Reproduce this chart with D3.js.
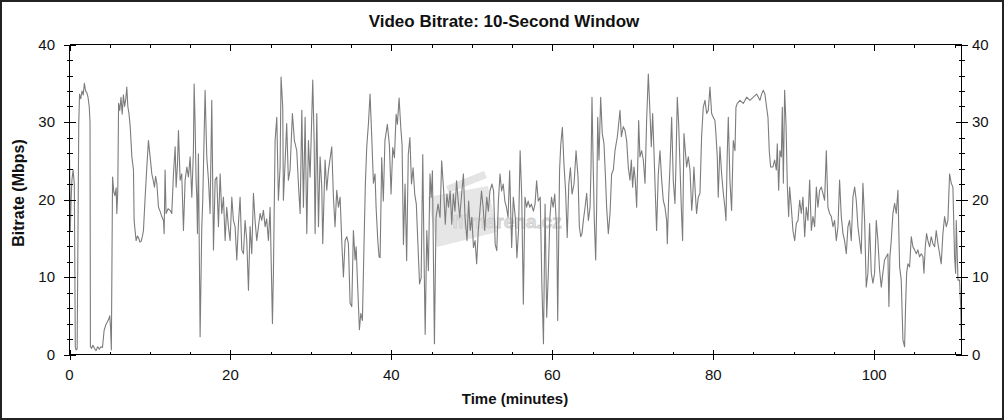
<!DOCTYPE html>
<html>
<head>
<meta charset="utf-8">
<script src="https://cdn.jsdelivr.net/npm/d3@7/dist/d3.min.js"></script>
<style>
  html, body { margin: 0; padding: 0; background: #fff; }
  svg { display: block; }
  text { font-family: "Liberation Sans", Arial, sans-serif; fill: #111; }
</style>
</head>
<body>
<svg id="chart" width="1004" height="420"></svg>
<script>
// ---- data ----
const title = "Video Bitrate: 10-Second Window";
const xLabel = "Time (minutes)";
const yLabel = "Bitrate (Mbps)";
const xTicks = [0, 20, 40, 60, 80, 100];
const yTicks = [0, 10, 20, 30, 40];

const minutes = [
 0.0,0.1,0.2,0.3,0.45,0.6,0.72,0.8,0.95,1.05,1.15,1.25,1.4,1.55,1.7,1.85,2.0,2.15,2.3,2.45,2.55,2.6,2.75,2.9,3.1,3.3,3.5,3.7,3.9,4.1,4.3,4.5,4.7,4.9,5.0,5.1,5.2,5.35,5.5,5.65,5.8,5.88,6.0,6.1,6.25,6.4,6.55,6.7,6.85,7.0,7.12,7.25,7.4,7.55,7.75,7.95,8.03,8.15,8.28,8.45,8.6,8.75,8.9,9.05,9.19,
 9.4,9.6,9.81,10.02,10.23,10.4,10.56,10.7,10.85,11.06,11.25,11.47,11.68,11.76,11.88,12.0,12.25,12.51,12.71,12.92,13.13,13.25,13.42,13.54,13.75,13.95,14.16,14.37,14.58,14.78,14.99,15.2,15.4,15.49,15.61,15.73,15.82,15.9,16.02,16.23,16.44,16.56,16.85,17.06,17.27,17.47,17.68,17.89,18.1,18.3,18.51,18.72,18.92,19.13,19.34,19.54,19.75,19.96,
 20.17,20.37,20.58,20.79,21.0,21.2,21.41,21.62,21.82,22.03,22.24,22.44,22.65,22.86,23.06,23.27,23.48,23.69,23.89,24.1,24.31,24.5,24.72,24.93,25.22,25.34,25.55,25.76,25.96,26.17,26.29,26.5,26.58,26.8,26.99,27.2,27.41,27.7,27.95,28.24,28.5,28.66,
 28.87,29.07,29.28,29.49,29.69,29.9,30.23,30.4,30.52,30.73,30.94,31.14,31.35,31.47,31.76,31.97,32.18,32.59,32.8,33.0,33.21,33.42,33.63,33.83,34.04,34.25,34.46,34.66,34.87,35.08,35.28,35.49,35.62,35.78,36.03,36.2,36.4,36.61,36.77,36.94,37.15,37.35,37.56,37.77,37.97,38.1,38.31,38.47,
 38.6,38.8,39.0,39.2,39.5,39.75,39.96,40.17,40.38,40.59,40.75,40.96,41.17,41.33,41.5,41.7,41.9,42.1,42.3,42.5,42.7,42.9,43.1,43.3,43.5,43.7,43.9,44.05,44.2,44.4,
 44.6,44.8,44.95,45.1,45.35,45.55,45.8,46.05,46.25,46.5,46.7,46.9,47.1,47.3,47.5,47.7,47.9,48.1,48.3,48.5,48.7,48.95,49.15,49.4,49.6,49.8,50.0,50.2,50.4,50.6,
 50.8,51.0,51.2,51.4,51.6,51.85,52.05,52.25,52.5,52.7,52.9,53.1,53.3,53.5,53.7,53.9,54.1,54.3,54.5,54.7,54.95,55.15,55.4,55.6,55.8,56.0,56.2,56.4,56.6,56.8,
 57.0,57.2,57.4,57.65,57.85,58.05,58.25,58.5,58.7,58.9,59.1,59.3,59.5,59.7,59.9,60.1,60.3,60.55,60.67,60.9,61.05,61.25,61.45,61.65,61.85,62.05,62.25,62.45,62.7,62.95,63.2,
 63.36,63.53,63.69,63.86,64.07,64.27,64.48,64.69,64.81,64.93,65.1,65.22,65.39,65.51,65.64,65.8,66.01,66.21,66.42,66.59,66.75,66.96,67.17,67.37,67.58,67.79,68.08,68.25,68.41,68.58,68.82,69.03,69.24,69.44,69.65,69.82,69.98,
 70.15,70.31,70.48,70.65,70.73,70.89,71.1,71.31,71.52,71.72,71.93,72.14,72.3,72.47,72.63,72.8,72.96,73.17,73.38,73.59,73.79,74.0,74.21,74.29,74.46,74.62,74.83,75.03,75.24,75.37,75.53,75.7,75.86,76.03,76.19,76.36,76.53,76.69,76.9,77.11,77.32,77.44,77.6,77.77,77.93,78.14,78.35,78.55,78.76,78.97,79.18,79.38,79.59,79.8,
 80.0,80.21,80.33,80.5,80.62,80.83,81.04,81.25,81.45,81.58,81.74,81.87,82.07,82.28,82.49,82.7,82.82,82.99,83.32,83.73,84.15,84.56,84.98,85.39,85.8,86.01,86.22,86.42,86.63,86.8,86.96,87.13,87.42,87.63,87.84,87.96,88.13,88.29,88.46,88.58,88.71,88.87,89.04,89.21,89.37,89.49,89.7,89.9,
 90.12,90.32,90.53,90.74,90.94,91.15,91.36,91.56,91.77,91.98,92.19,92.39,92.6,92.81,93.01,93.22,93.43,93.63,93.84,94.05,94.25,94.46,94.67,94.88,95.08,95.29,95.5,95.7,95.91,96.12,96.32,96.53,96.74,96.94,97.15,97.36,97.57,97.77,97.98,98.19,98.39,98.6,98.81,99.01,99.22,99.43,99.64,99.84,
 100.05,100.26,100.46,100.67,100.88,101.08,101.29,101.5,101.7,101.83,101.95,102.12,102.33,102.54,102.74,102.95,103.16,103.36,103.57,103.78,103.9,104.03,104.19,104.4,104.61,104.81,105.02,105.23,105.43,105.64,105.85,106.06,106.18,106.35,106.51,106.68,106.89,107.09,107.3,107.51,107.71,107.92,108.13,108.33,108.54,108.75,108.96,109.16,109.37,109.58,109.78,109.99,110.12,110.2,110.41,110.61,110.75,110.85
];

const bitrate = [
 26,16,20,22.5,23.8,22,1.0,0.6,0.7,15,29.8,33.6,33,34,33.5,35,34,33.8,33.2,32,30,1.0,0.8,1.2,0.8,0.5,1.0,0.7,1.0,0.9,3.1,3.8,4.2,4.6,5.0,3.5,0.6,22.9,21,20.5,21.5,18.2,21,32.4,31.5,33.2,31,33.5,32,33,34.5,32,31,29.3,25.5,23.8,17.3,16,14.7,15.3,15.0,14.5,14.6,15.2,16,
 20.3,24,27.6,25.5,23.3,22.5,21.6,23,22.1,19.0,18.5,17.8,17.3,15.6,23.8,18.2,18.8,18.6,18.2,23.3,26.8,21.6,24.6,28.9,22.5,23.3,16.0,22.5,24.2,22.9,25.5,20.3,26.3,34.9,29.8,22.5,20.3,15.6,25.9,2.3,16.5,19.9,34.1,25.5,22.5,18.2,32.8,13.5,22.5,22.9,16.5,23.3,18.2,20.3,14.7,19.0,16.5,14.7,
 20.3,17.3,16.5,12.2,17,20.3,13.5,13.0,17.3,14.7,8.3,16.5,13.0,20.8,17.3,14.7,16.5,18.2,17.3,18.6,16.5,17.5,14.7,19.0,4.0,10.5,27.6,30.6,19.9,24.2,35.8,31.9,19.9,25,29.8,22.5,23.8,31.1,27.6,26.3,21,18.2,
 31.5,19.0,30.6,15.6,27.6,22.9,35.4,27.6,15.6,31.1,16.5,25.5,21.6,14.3,25.1,21.2,23.8,26.8,20.3,16.5,21.2,19.0,20.3,14.7,10.0,14.7,15.2,14.3,6.6,6.2,16.0,12.2,13.9,9.6,3.2,5.3,4.4,14.7,22.1,26.8,29.8,33.6,28.1,22.1,23.3,19.0,14.7,12.6,
 12.5,25.4,19.8,27.6,29.7,27.1,20.7,26.7,25.4,31.0,29.7,33.1,29.3,27.1,14.2,22.0,12.1,25.8,28.0,22.0,24.1,20.7,19.4,14.2,9.1,9.9,25.8,13.4,2.6,16.0,
 10.8,23.3,20.3,23.7,1.4,17.7,19.4,17.7,25.0,21.1,16.8,20.7,19.0,21.1,16.8,20.7,18.5,22.4,19.8,17.7,20.3,23.3,17.7,14.7,19.8,16.0,17.7,13.8,14.7,11.7,
 16.0,18.5,21.1,19.0,16.0,20.3,18.5,21.1,22.0,21.1,14.2,13.4,19.8,23.3,21.1,22.0,19.8,19.0,17.7,23.7,13.8,20.3,17.7,12.5,16.0,26.3,20.3,6.5,20.3,19.0,
 19.8,19.0,19.4,18.5,19.4,22.4,19.8,20.3,9.1,1.4,19.4,4.8,10.4,17.7,20.3,19.0,20.7,16.0,4.4,23.7,27.1,29.3,24.5,21.1,15.1,22.0,24.1,20.7,22.0,26.3,22.8,
 16.5,15.2,15.6,17.3,19.0,20.8,17.3,19.0,24.2,33.2,23.3,17.3,12.2,19.0,30.6,25.1,33.2,28.5,27.2,23.3,19.0,15.6,18.2,23.3,23.8,26.3,28.1,29.8,31.5,28.1,29.4,28.9,27.6,24.2,22.5,25.1,21.6,
 24.2,22.5,19.0,25.9,30.2,25.5,26.3,25.1,22.1,30.2,36.2,31.1,26.8,31.1,26.3,20.8,16.0,23.3,26.3,22.5,19.9,19.0,17.3,14.3,20.3,24.2,30.6,22.5,19.5,24.6,33.2,29.8,24.6,19.0,14.7,28.5,26.3,24.2,25.5,23.8,18.6,20.3,24.2,20.8,18.2,20.3,20.8,28.1,31.9,32.8,31.1,31.5,34.5,31.1,
 30.6,30.2,28.5,25.5,20.3,26.8,23.3,20.8,19.0,17.3,25.9,30.6,22.5,18.6,27.6,26.3,31.9,32.4,32.8,32.4,33.2,32.8,33.2,33.6,32.8,33.6,34.1,33.6,31.9,30.6,26.3,24.2,24.2,25.1,23.8,27.2,21.2,26.3,25.5,31.9,22.1,34.1,29.8,21.6,17.8,21.6,19.0,16.0,
 14.7,16.9,17.3,19.9,18.2,20.3,15.2,19.0,17.3,22.5,16.0,17.8,16.5,21.6,19.0,21.2,21.6,20.8,19.9,26.3,19.0,18.2,17.8,16.5,17.3,14.7,16.5,22.5,17.8,15.6,14.7,13.0,16.5,17.3,14.7,20.3,21.6,19.9,16.5,14.7,13.0,22.1,17.3,8.7,10.5,16.9,10.5,9.2,
 10.5,17.3,14.7,10.9,8.7,10.5,12.2,12.6,13.0,6.2,12.6,14.7,18.2,19.5,18.2,21.2,11.3,9.6,1.9,1.0,6.2,10.5,11.7,11.3,15.2,13.9,13.5,13.0,13.5,12.6,13.0,12.6,10.5,13.9,15.6,14.7,13.9,15.2,14.3,13.9,16.0,14.3,13.0,11.7,15.6,17.8,16.5,17.3,23.3,22.1,21.6,12.6,10.5,17.3,9.6,9.6,6.2,1.5
];

// ---- layout ----
const W = 1004, H = 420;
const svg = d3.select("#chart");
const x = d3.scaleLinear().domain([0, 110.85]).range([69.5, 961.5]);
const y = d3.scaleLinear().domain([0, 40]).range([354.5, 44.5]);

svg.append("rect").attr("x", 0).attr("y", 0).attr("width", W).attr("height", H).attr("fill", "#fff");
svg.append("rect").attr("x", 1).attr("y", 1).attr("width", W - 2).attr("height", H - 2)
  .attr("fill", "none").attr("stroke", "#222").attr("stroke-width", 2);

// watermark (faint logo behind the line)
const wm = svg.append("g");
wm.append("path")
  .attr("d", "M446,186 L484,171 L487,178 L449,193 Z")
  .attr("fill", "#e4e4e4");
wm.append("path")
  .attr("d", "M428,197 L488,186 L497,232 L437,247 Z")
  .attr("fill", "#e6e6e6");
wm.append("text").attr("x", 452).attr("y", 228)
  .attr("font-size", 19).attr("font-weight", "bold")
  .style("fill", "#e0e0e0").style("stroke", "#cfcfcf").style("stroke-width", 0.8)
  .text("filmarena.cz");

// data line
const n = Math.min(minutes.length, bitrate.length);
const data = d3.range(n).map(i => ({ t: minutes[i], v: bitrate[i] }));
svg.append("path").datum(data)
  .attr("fill", "none").attr("stroke", "#7c7c7c").attr("stroke-width", 1.1)
  .attr("stroke-linejoin", "round")
  .attr("d", d3.line().x(d => x(d.t)).y(d => y(d.v)));

// frame
const ax = svg.append("g").attr("stroke", "#000").attr("stroke-width", 1).attr("shape-rendering", "crispEdges");
const [x0, x1] = x.range(), [yb, yt] = y.range();
ax.append("line").attr("x1", x0).attr("x2", x1).attr("y1", yb).attr("y2", yb);
ax.append("line").attr("x1", x0).attr("x2", x1).attr("y1", yt).attr("y2", yt);
ax.append("line").attr("x1", x0).attr("x2", x0).attr("y1", yt).attr("y2", yb);
ax.append("line").attr("x1", x1).attr("x2", x1).attr("y1", yt).attr("y2", yb);

const xMinor = d3.range(5, 111, 5).filter(v => v % 20 !== 0);
const yMinor = d3.range(2, 40, 2).filter(v => v % 10 !== 0);

xTicks.forEach(v => {
  const px = Math.round(x(v)) + 0.5;
  ax.append("line").attr("x1", px).attr("x2", px).attr("y1", yb - 5).attr("y2", yb + 5);
  ax.append("line").attr("x1", px).attr("x2", px).attr("y1", yt).attr("y2", yt + 6);
});
xMinor.forEach(v => {
  const px = Math.round(x(v)) + 0.5;
  ax.append("line").attr("x1", px).attr("x2", px).attr("y1", yb - 3).attr("y2", yb);
  ax.append("line").attr("x1", px).attr("x2", px).attr("y1", yt).attr("y2", yt + 3);
});
yTicks.forEach(v => {
  const py = Math.round(y(v)) + 0.5;
  ax.append("line").attr("x1", x0 - 6).attr("x2", x0 + 6).attr("y1", py).attr("y2", py);
  ax.append("line").attr("x1", x1 - 6).attr("x2", x1 + 6).attr("y1", py).attr("y2", py);
});
yMinor.forEach(v => {
  const py = Math.round(y(v)) + 0.5;
  ax.append("line").attr("x1", x0 - 3).attr("x2", x0 + 3).attr("y1", py).attr("y2", py);
  ax.append("line").attr("x1", x1 - 3).attr("x2", x1 + 3).attr("y1", py).attr("y2", py);
});

// tick labels
const lab = svg.append("g").attr("font-size", 15);
xTicks.forEach(v => {
  lab.append("text").attr("x", x(v)).attr("y", 380).attr("text-anchor", "middle").text(v);
});
yTicks.forEach(v => {
  lab.append("text").attr("x", 55).attr("y", y(v)).attr("dy", "0.35em").attr("text-anchor", "end").text(v);
  lab.append("text").attr("x", 972).attr("y", y(v)).attr("dy", "0.35em").attr("text-anchor", "start").text(v);
});

// titles
svg.append("text").attr("x", 504).attr("y", 27).attr("text-anchor", "middle")
  .attr("font-size", 17).attr("font-weight", "bold").text(title);
svg.append("text").attr("x", 515).attr("y", 404).attr("text-anchor", "middle")
  .attr("font-size", 15).attr("font-weight", "bold").text(xLabel);
svg.append("text").attr("transform", "translate(24,193) rotate(-90)").attr("text-anchor", "middle")
  .attr("font-size", 16).attr("font-weight", "bold").text(yLabel);
</script>
</body>
</html>
